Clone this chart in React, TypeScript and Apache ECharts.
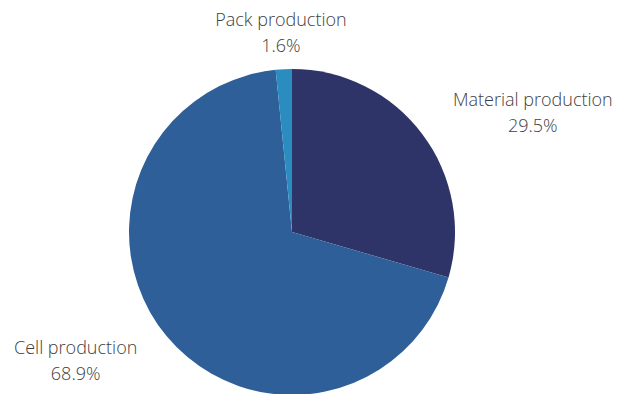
import React, { useEffect, useRef } from "react";
import * as echarts from "echarts";

const categories = ["Material production", "Cell production", "Pack production"];
const values = [29.5, 68.9, 1.6];
const colors = ["#2e3468", "#2e5f98", "#2b8dbf"];

export default function App() {
  const ref = useRef<HTMLDivElement>(null);
  useEffect(() => {
    if (!ref.current) return;
    const chart = echarts.init(ref.current, undefined, { renderer: "svg" });
    chart.setOption({
      animation: false,
      backgroundColor: "#ffffff",
      series: [
        {
          type: "pie",
          center: [292, 232],
          radius: 163,
          startAngle: 90,
          clockwise: true,
          avoidLabelOverlap: false,
          data: categories.map((name, i) => ({
            name,
            value: values[i],
            itemStyle: { color: colors[i] },
          })),
          label: {
            show: true,
            position: "outside",
            distanceToLabelLine: 1,
            formatter: (p: any) => `{n|${p.name}}\n{n|${p.value.toFixed(1)}%}`,
            rich: {
              n: {
                align: "center",
                fontFamily: "Open Sans",
                fontWeight: 300,
                fontSize: 18,
                lineHeight: 26,
                color: "#404040",
              },
            },
          },
          labelLine: { show: false, length: 37, length2: 0 },
          labelLayout: (params: any) => {
            const pts = params.labelLinePoints;
            if (pts && pts.length >= 2) {
              const dx = pts[1][0] - pts[0][0];
              const dy = pts[1][1] - pts[0][1];
              if (Math.abs(dx) < Math.abs(dy) * 0.2) {
                return { align: "center" };
              }
            }
            return {};
          },
          emphasis: { disabled: true },
        },
      ],
    });
    return () => chart.dispose();
  }, []);
  return (
    <div
      ref={ref}
      style={{ position: "absolute", left: 0, top: 0, width: 632, height: 394 }}
    />
  );
}
